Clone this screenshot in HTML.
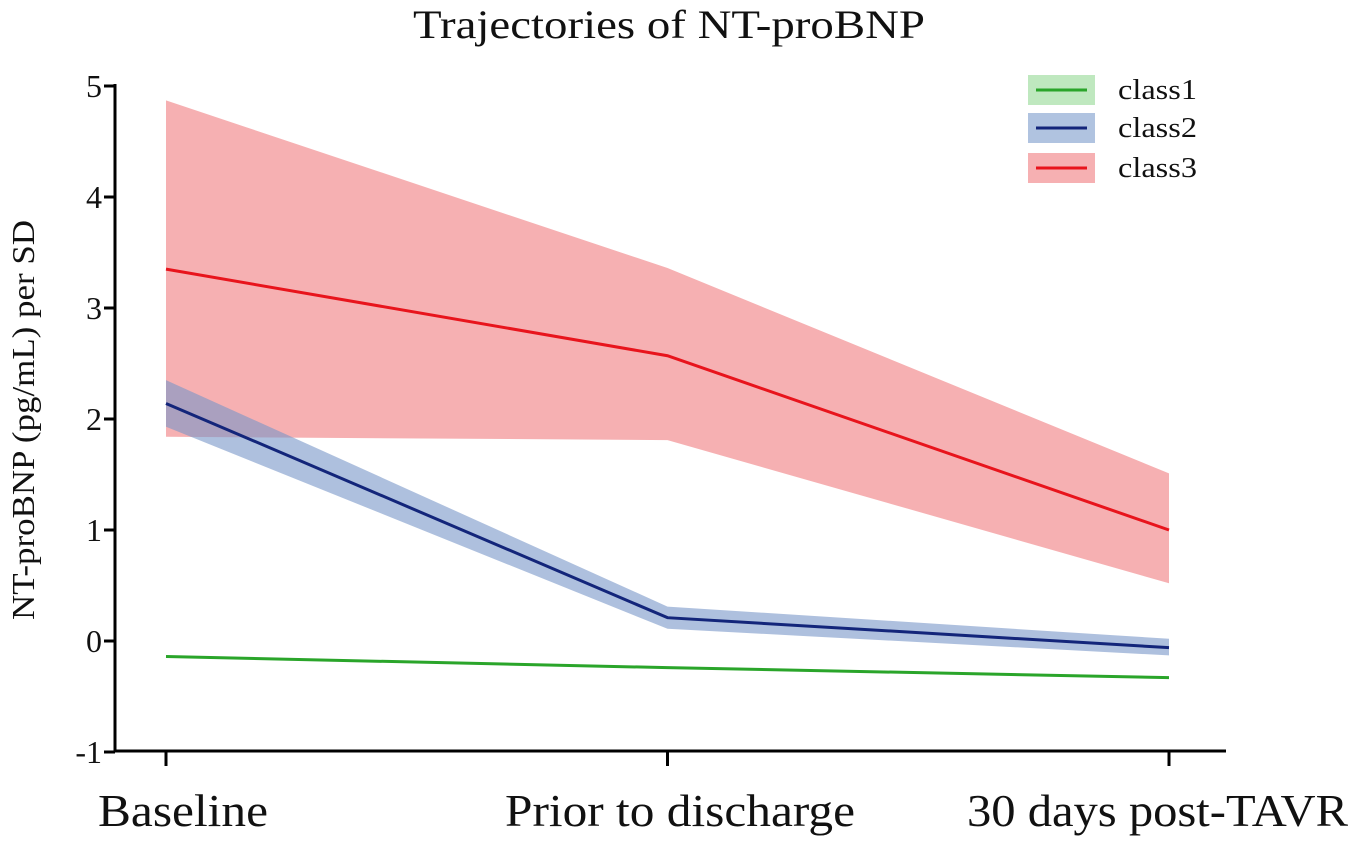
<!DOCTYPE html>
<html><head><meta charset="utf-8"><style>
html,body{margin:0;padding:0;background:#fff;}
svg{display:block;font-family:"Liberation Serif",serif;}
</style></head><body>
<svg id="chart" width="1360" height="843" viewBox="0 0 1360 843">
<text x="413" y="38" textLength="512" lengthAdjust="spacingAndGlyphs" font-size="40" fill="#111">Trajectories of NT-proBNP</text>
<text transform="translate(34,420) rotate(-90)" text-anchor="middle" textLength="400" lengthAdjust="spacingAndGlyphs" font-size="32" fill="#111">NT-proBNP (pg/mL) per SD</text>
<g id="bands"></g><g id="lines"></g><g id="axes"></g><g id="legend"></g>
</svg>
<script>
const categories = ["Baseline", "Prior to discharge", "30 days post-TAVR"];
const yTicks = [-1, 0, 1, 2, 3, 4, 5];
const seriesNames = ["class1", "class2", "class3"];
const class1Mean = [-0.14, -0.24, -0.33];
const class2Mean = [2.14, 0.21, -0.06];
const class2Upper = [2.35, 0.31, 0.02];
const class2Lower = [1.93, 0.11, -0.13];
const class3Mean = [3.35, 2.57, 1.0];
const class3Upper = [4.87, 3.36, 1.51];
const class3Lower = [1.84, 1.81, 0.52];

const NS = "http://www.w3.org/2000/svg";
const xPos = i => 166 + i * 501.5;
const yPos = v => 641 - v * 111;
function mk(tag, attrs, parent){const e=document.createElementNS(NS,tag);for(const k in attrs)e.setAttribute(k,attrs[k]);parent.appendChild(e);return e;}
const bands=document.getElementById('bands'), lines=document.getElementById('lines'), axes=document.getElementById('axes'), legend=document.getElementById('legend');

function band(up, lo, fill, name){
  let pts = up.map((v,i)=>xPos(i)+","+yPos(v)).concat(lo.map((v,i)=>xPos(i)+","+yPos(v)).reverse());
  const p = mk('polygon',{points:pts.join(' '),fill:fill},bands);
  
  
}
function line(vals, color, name){
  const p = mk('polyline',{points:vals.map((v,i)=>xPos(i)+","+yPos(v)).join(' '),fill:'none',stroke:color,'stroke-width':3},lines);
  
  
}
band(class3Upper, class3Lower, "#f6b0b2", "class3-band");
band(class2Upper, class2Lower, "rgba(120,150,200,0.6)", "class2-band");
line(class1Mean, "#2aa52a", "class1-line");
line(class2Mean, "#13257a", "class2-line");
line(class3Mean, "#e8141c", "class3-line");

const ya = mk('line',{x1:115,y1:84,x2:115,y2:751,stroke:'#000','stroke-width':3},axes);


const xa = mk('line',{x1:114,y1:751,x2:1226,y2:751,stroke:'#000','stroke-width':3},axes);


yTicks.forEach(t=>{
  mk('line',{x1:104,y1:yPos(t),x2:115,y2:yPos(t),stroke:'#000','stroke-width':3},axes);
  const tx = mk('text',{x:102,y:yPos(t)+11,'text-anchor':'end','font-size':32,fill:'#111'},axes);
  tx.textContent = t;
  
  
});
const labX=[98,505,967], labW=[170,350,381];
categories.forEach((c,i)=>{
  mk('line',{x1:xPos(i),y1:751,x2:xPos(i),y2:766,stroke:'#000','stroke-width':3},axes);
  const tx = mk('text',{x:labX[i],y:826,textLength:labW[i],lengthAdjust:'spacingAndGlyphs','font-size':46,fill:'#111'},axes);
  tx.textContent = c;
  
  
});
const legFills=["#bfe8bf","#b0c3e0","#f6b0b2"], legLines=["#2aa52a","#13257a","#e8141c"], legY=[90,128,168];
seriesNames.forEach((n,i)=>{
  const g = mk('g',{},legend);
  
  
  mk('rect',{x:1028,y:legY[i]-15,width:67,height:30,fill:legFills[i]},g);
  mk('line',{x1:1036,y1:legY[i],x2:1087,y2:legY[i],stroke:legLines[i],'stroke-width':3},g);
  const tx = mk('text',{x:1118,y:legY[i]+9,textLength:79,lengthAdjust:'spacingAndGlyphs','font-size':28,fill:'#111'},g);
  tx.textContent = n;
});
</script>
</body></html>
